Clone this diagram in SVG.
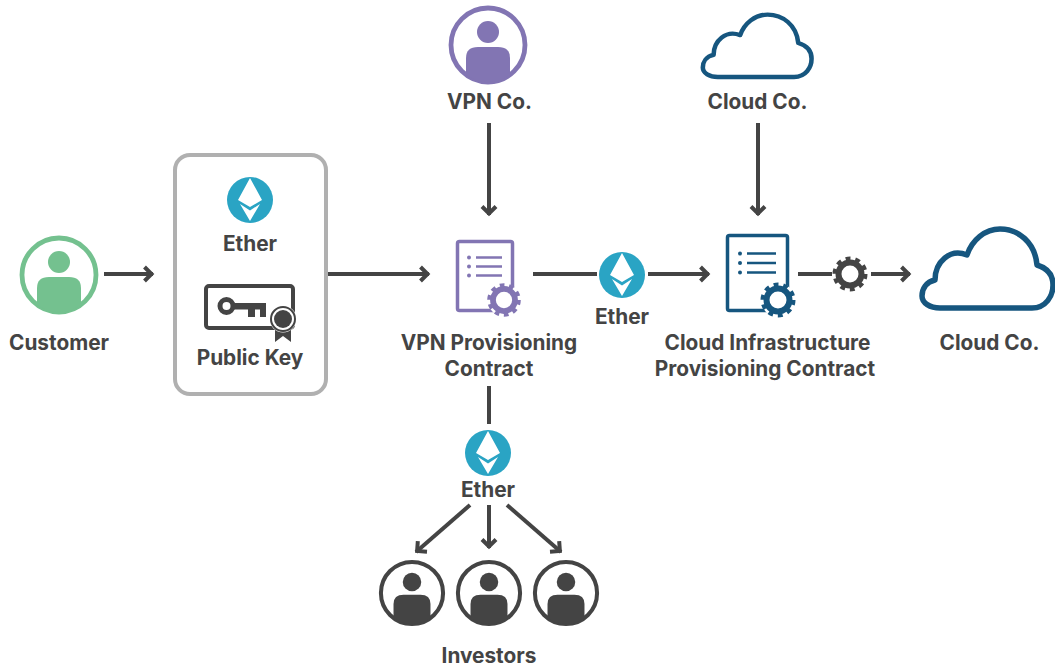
<svg xmlns="http://www.w3.org/2000/svg" width="1055" height="668" viewBox="0 0 1055 668">
<style>
text{font-family:Inter,"Liberation Sans",sans-serif;font-weight:700;font-size:20.8px;fill:#444;text-anchor:middle}
.c{fill:none;stroke:#444;stroke-width:4}
</style>
<defs>
<marker id="a" markerUnits="userSpaceOnUse" markerWidth="20" markerHeight="24" refX="15" refY="12" orient="auto"><path d="M6.500 5L13.500 12L6.500 19" fill="none" stroke="#444" stroke-width="4"/></marker>
<g id="ether"><circle r="23" fill="#2aa4c4"/><path d="M0-22L12 0L0 7L-12 0Z M-10 4L0 10.500L10 4L0 21Z" fill="#fff"/></g>
<clipPath id="pc"><circle r="37"/></clipPath>
<g id="person"><circle r="37" fill="#fff" stroke="currentColor" stroke-width="4.800"/><circle cy="-13" r="11" fill="currentColor"/><path clip-path="url(#pc)" d="M-22 40V13Q-22 2-10 2H10Q22 2 22 13V40Z" fill="currentColor"/></g>
<g id="gear"><circle r="17" fill="#fff"/><circle r="11.500" fill="none" stroke="currentColor" stroke-width="6"/><circle r="15.500" fill="none" stroke="currentColor" stroke-width="4" stroke-dasharray="4.870 4.870"/></g>
<path id="cloud" d="M940 308H1032C1046 308 1053 296 1053 285C1053 275 1047 268 1037 265C1035 242 1018 229 1000 229C985 229 972 240 967 255C950 248 935 262 935 280C926 282 922 289 922 296C922 303 930 308 940 308Z" fill="#fff" stroke="#16567f" stroke-width="5.500" stroke-linejoin="round"/>
</defs>
<g id="connectors" class="c">
<path class="c" d="M104 274H153" marker-end="url(#a)"/>
<path class="c" d="M328 274H429" marker-end="url(#a)"/>
<path class="c" d="M533 274H597"/>
<path class="c" d="M648 274H709" marker-end="url(#a)"/>
<path class="c" d="M798 274H832"/>
<path class="c" d="M871 274H910" marker-end="url(#a)"/>
<path class="c" d="M489 123V215" marker-end="url(#a)"/>
<path class="c" d="M758 123V215" marker-end="url(#a)"/>
<path class="c" d="M489 386V424"/>
<path class="c" d="M470 505L416 552" marker-end="url(#a)"/>
<path class="c" d="M489 505V548" marker-end="url(#a)"/>
<path class="c" d="M507 505L561 552" marker-end="url(#a)"/>
</g>
<g id="customer" color="#74c18f"><use href="#person" x="59" y="275"/><text x="59" y="349.500">Customer</text></g>
<g id="wallet">
<rect x="175" y="155" width="151" height="239" rx="15" fill="#fff" stroke="#b0b0b0" stroke-width="4"/>
<use href="#ether" x="250" y="200"/><text x="250" y="250.500">Ether</text>
<rect x="206" y="286" width="87" height="42" rx="3" fill="#fff" stroke="#444" stroke-width="4"/>
<circle cx="226.500" cy="306" r="6.500" fill="none" stroke="#444" stroke-width="5"/>
<path d="M232 303H266V317H260V309.500H255V317H248V309.500H232Z" fill="#444"/>
<path d="M275 325V342L283 336L291 342V325Z" fill="#444"/>
<circle cx="283" cy="319" r="13.500" fill="#fff"/><circle cx="283" cy="319" r="12" fill="none" stroke="#444" stroke-width="2"/><circle cx="283" cy="319" r="9" fill="#444"/>
<text x="250" y="364.500">Public Key</text>
</g>
<g id="vpn-co" color="#8275b3"><use href="#person" x="488" y="45"/><text x="489.500" y="108.500">VPN Co.</text></g>
<g id="cloud-co-top"><use href="#cloud" transform="translate(702 13) scale(.83 .79) translate(-921 -227)"/><text x="757.500" y="108.500">Cloud Co.</text></g>
<g id="vpn-contract" color="#8275b3">
<rect x="457.500" y="241.500" width="55" height="69" rx="2" fill="#fff" stroke="#8275b3" stroke-width="3.500"/>
<path d="M476 257.500H502M476 266.500H502M476 275.500H502" stroke="#8275b3" stroke-width="2.500"/>
<circle cx="469" cy="257.500" r="2" fill="#8275b3"/><circle cx="469" cy="266.500" r="2" fill="#8275b3"/><circle cx="469" cy="275.500" r="2" fill="#8275b3"/>
<use href="#gear" transform="translate(504 300) scale(.96)"/>
<text x="489" y="350">VPN Provisioning</text><text x="489" y="375.500">Contract</text>
</g>
<g id="ether-mid"><use href="#ether" x="622" y="275"/><text x="622" y="323.500">Ether</text></g>
<g id="cloud-contract" color="#16567f">
<rect x="727.500" y="235.500" width="60" height="75" rx="2" fill="#fff" stroke="#16567f" stroke-width="3.500"/>
<path d="M747 253.500H776M747 263H776M747 272.500H776" stroke="#16567f" stroke-width="2.500"/>
<circle cx="740" cy="253.500" r="2" fill="#16567f"/><circle cx="740" cy="263" r="2" fill="#16567f"/><circle cx="740" cy="272.500" r="2" fill="#16567f"/>
<use href="#gear" x="778" y="300"/>
<text x="767.500" y="349.500">Cloud Infrastructure</text><text x="765" y="375.500">Provisioning Contract</text>
</g>
<g id="service-gear" color="#444"><use href="#gear" x="850" y="274"/></g>
<g id="cloud-co"><use href="#cloud"/><text x="989.500" y="349.500">Cloud Co.</text></g>
<g id="ether-low"><use href="#ether" x="488" y="453"/><text x="488" y="496.500">Ether</text></g>
<g id="investors" color="#444">
<use href="#person" transform="translate(412 593) scale(.84)"/><use href="#person" transform="translate(489 593) scale(.84)"/><use href="#person" transform="translate(566 593) scale(.84)"/>
<text x="489" y="663">Investors</text>
</g>
</svg>
